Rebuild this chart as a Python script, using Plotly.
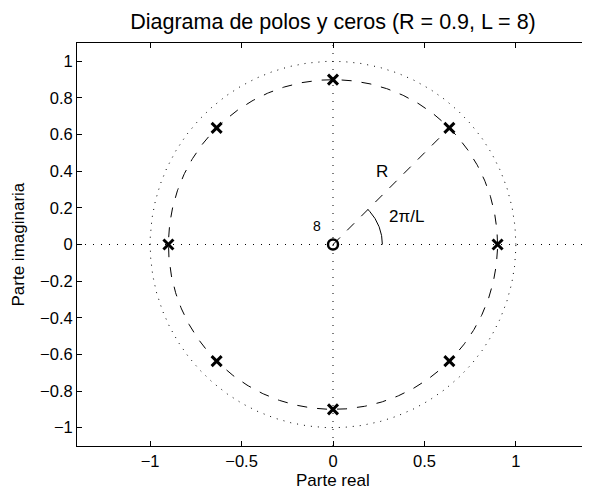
import numpy as np
import plotly.graph_objects as go

# ---- data ----
R = 0.9
L = 8
pole_angles_deg = [0, 45, 90, 135, 180, 225, 270, 315]
zero_re = [0.0]
zero_im = [0.0]
zero_multiplicity = "8"
unit_radius = 1.0
arc_radius = 0.27
x_ticks = [-1, -0.5, 0, 0.5, 1]
x_ticklabels = ["\u22121", "\u22120.5", "0", "0.5", "1"]
y_ticks = [-1, -0.8, -0.6, -0.4, -0.2, 0, 0.2, 0.4, 0.6, 0.8, 1]
y_ticklabels = ["\u22121", "\u22120.8", "\u22120.6", "\u22120.4", "\u22120.2", "0",
                "0.2", "0.4", "0.6", "0.8", "1"]
x_range = [-1.4, 1.4]
y_range = [-1.1, 1.1]

FONT = "Liberation Sans, Arial, Helvetica, sans-serif"

pole_re = [R * np.cos(np.deg2rad(a)) for a in pole_angles_deg]
pole_im = [R * np.sin(np.deg2rad(a)) for a in pole_angles_deg]

fig = go.Figure()

# axes dotted lines
fig.add_trace(go.Scatter(x=x_range, y=[0, 0], mode="lines",
                         line=dict(color="black", width=1, dash="1px,7px"),
                         hoverinfo="skip", showlegend=False))
fig.add_trace(go.Scatter(x=[0, 0], y=y_range, mode="lines",
                         line=dict(color="black", width=1, dash="1px,7px"),
                         hoverinfo="skip", showlegend=False))

# circles
th = np.linspace(0, 2 * np.pi, 721)
fig.add_trace(go.Scatter(x=unit_radius * np.cos(th), y=unit_radius * np.sin(th), mode="lines",
                         line=dict(color="black", width=1, dash="1px,6px"),
                         hoverinfo="skip", showlegend=False))
fig.add_trace(go.Scatter(x=R * np.cos(th), y=R * np.sin(th), mode="lines",
                         line=dict(color="black", width=1, dash="10px,10px"),
                         hoverinfo="skip", showlegend=False))

# radius line to pole at 2*pi/L
ang = 2 * np.pi / L
fig.add_trace(go.Scatter(x=[0, R * np.cos(ang)], y=[0, R * np.sin(ang)], mode="lines",
                         line=dict(color="black", width=1, dash="10px,10px"),
                         hoverinfo="skip", showlegend=False))

# arc for angle
tha = np.linspace(0, ang, 60)
fig.add_trace(go.Scatter(x=arc_radius * np.cos(tha), y=arc_radius * np.sin(tha), mode="lines",
                         line=dict(color="black", width=1),
                         hoverinfo="skip", showlegend=False))

# poles
fig.add_trace(go.Scatter(x=pole_re, y=pole_im, mode="markers",
                         marker=dict(symbol="x-thin", size=10, color="black",
                                     line=dict(color="black", width=3)),
                         showlegend=False))
# zero
fig.add_trace(go.Scatter(x=zero_re, y=zero_im, mode="markers",
                         marker=dict(symbol="circle-open", size=10, color="black",
                                     line=dict(color="black", width=2.5)),
                         showlegend=False))

annots = [
    dict(x=0.27, y=0.40, text="R", showarrow=False, font=dict(size=17, family=FONT, color="black"),
         xanchor="center", yanchor="middle"),
    dict(x=0.295, y=0.155, text="2\u03c0/L", showarrow=False,
         font=dict(size=17, family=FONT, color="black"), xanchor="left", yanchor="middle"),
    dict(x=-0.085, y=0.10, text=zero_multiplicity, showarrow=False,
         font=dict(size=14, family=FONT, color="black"), xanchor="center", yanchor="middle"),
    dict(x=0.5, y=0, xref="paper", yref="paper", text="Parte real", showarrow=False,
         font=dict(size=17, family=FONT, color="black"), xanchor="center", yanchor="middle",
         yshift=-34),
    dict(x=0, y=0.5, xref="paper", yref="paper", text="Parte imaginaria", showarrow=False,
         font=dict(size=17, family=FONT, color="black"), xanchor="center", yanchor="middle",
         textangle=-90, xshift=-59),
]

axis_common = dict(showgrid=False, zeroline=False, showline=True, linecolor="black",
                   linewidth=1, mirror="ticks", ticks="inside", ticklen=5,
                   tickcolor="black", tickfont=dict(size=16.5, family=FONT, color="black"))

# page body has an 8px margin, so the figure is sized/offset accordingly
fig.update_layout(
    width=582, height=482,
    margin=dict(l=69, r=1, t=35, b=44),
    paper_bgcolor="white", plot_bgcolor="white",
    title=dict(text="Diagrama de polos y ceros (R = 0.9, L = 8)",
               x=325 / 582, xanchor="center",
               y=1 - 13.5 / 482, yanchor="middle", yref="container",
               font=dict(size=21.5, family=FONT, color="black")),
    xaxis=dict(range=x_range, tickvals=x_ticks, ticktext=x_ticklabels, **axis_common),
    yaxis=dict(range=y_range, tickvals=y_ticks, ticktext=y_ticklabels, **axis_common),
    annotations=annots,
    showlegend=False,
)

fig.write_html("out.html")
